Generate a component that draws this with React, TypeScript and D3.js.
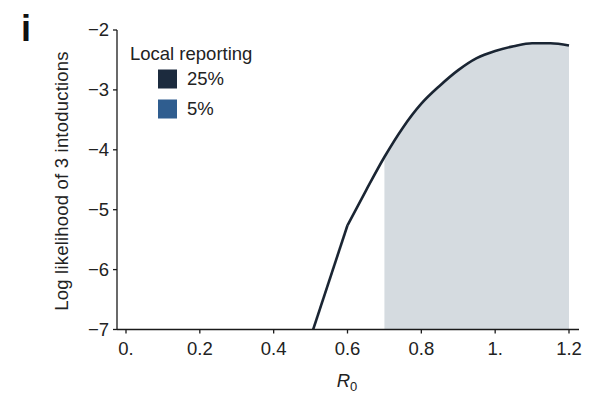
import React from "react";
import * as d3 from "d3";

const r0Values = [0.5, 0.6, 0.65, 0.7, 0.75, 0.8, 0.85, 0.9, 0.95, 1.0, 1.05, 1.1, 1.15, 1.2];
const logLik = [-7.13, -5.26, -4.68, -4.12, -3.63, -3.23, -2.93, -2.67, -2.47, -2.35, -2.27, -2.22, -2.22, -2.26];
const xTicks = [0, 0.2, 0.4, 0.6, 0.8, 1.0, 1.2];
const xTickLabels = ["0.", "0.2", "0.4", "0.6", "0.8", "1.", "1.2"];
const yTicks = [-7, -6, -5, -4, -3, -2];
const shadeRange = [0.7, 1.2];
const legendLabels = ["25%", "5%"];
const legendColors = ["#1c2b3e", "#2f5d8f"];

const FONT = "'Liberation Sans', Arial, Helvetica, sans-serif";

type P = { r: number; v: number };

export default function App() {
  const W = 596, H = 405;
  const x = d3.scaleLinear().domain([0, 1.2]).range([126, 569]);
  const y = d3.scaleLinear().domain([-7, -2]).range([329.5, 30]);
  const axisX = 117;
  const data: P[] = r0Values.map((r, i) => ({ r, v: logLik[i] }));
  const head = data.slice(0, 2);
  const tail = data.slice(1);
  const lin = d3.line<P>().x(d => x(d.r)).y(d => y(d.v));
  const smooth = d3.line<P>().x(d => x(d.r)).y(d => y(d.v)).curve(d3.curveMonotoneX);
  const area = d3.area<P>().x(d => x(d.r)).y0(y(-7)).y1(d => y(d.v)).curve(d3.curveMonotoneX);
  const ink = "#1a1a1a";
  const fs = 18.5;
  return (
    <svg width={W} height={H} style={{ position: "absolute", left: 0, top: 0, background: "#fff" }} fontFamily={FONT}>
      <defs>
        <clipPath id="shade">
          <rect x={x(shadeRange[0])} y={0} width={x(shadeRange[1]) - x(shadeRange[0])} height={y(-7)} />
        </clipPath>
        <clipPath id="plot">
          <rect x={axisX} y={0} width={W - axisX} height={y(-7)} />
        </clipPath>
      </defs>
      <text x={21} y={41} fontSize={36} fontWeight="bold" fill="#111">i</text>
      <path d={area(tail) || ""} fill="#d5dbe0" clipPath="url(#shade)" />
      <g clipPath="url(#plot)" fill="none" stroke="#1a2533" strokeWidth={2.6} strokeLinejoin="round">
        <path d={lin(head) || ""} />
        <path d={smooth(tail) || ""} />
      </g>
      {/* y axis */}
      <line x1={axisX} x2={axisX} y1={y(-2)} y2={y(-7)} stroke={ink} strokeWidth={1.3} />
      {yTicks.map(t => (
        <g key={t}>
          <line x1={axisX - 4} x2={axisX} y1={y(t)} y2={y(t)} stroke={ink} strokeWidth={1.3} />
          <text x={axisX - 8} y={y(t)} dy="0.35em" textAnchor="end" fontSize={fs} fill="#222">{"\u2212" + Math.abs(t)}</text>
        </g>
      ))}
      {/* x axis */}
      <line x1={axisX} x2={579} y1={y(-7)} y2={y(-7)} stroke={ink} strokeWidth={1.3} />
      {xTicks.map((t, i) => (
        <g key={t}>
          <line x1={x(t)} x2={x(t)} y1={y(-7)} y2={y(-7) + 4} stroke={ink} strokeWidth={1.3} />
          <text x={x(t)} y={355} textAnchor="middle" fontSize={fs} fill="#222">{xTickLabels[i]}</text>
        </g>
      ))}
      <text x={347} y={387} textAnchor="middle" fontSize={fs} fill="#222">
        <tspan fontStyle="italic">R</tspan>
        <tspan fontSize={13} dy={4}>0</tspan>
      </text>
      <text transform={`translate(68,181) rotate(-90)`} textAnchor="middle" fontSize={18.5} letterSpacing={0.2} fill="#222">Log likelihood of 3 intoductions</text>
      {/* legend */}
      <text x={130} y={60} fontSize={fs} fill="#222">Local reporting</text>
      {legendLabels.map((l, i) => (
        <g key={l}>
          <rect x={158} y={69.5 + i * 30} width={19} height={19} fill={legendColors[i]} />
          <text x={187} y={85 + i * 30} fontSize={fs} fill="#222">{l}</text>
        </g>
      ))}
    </svg>
  );
}
